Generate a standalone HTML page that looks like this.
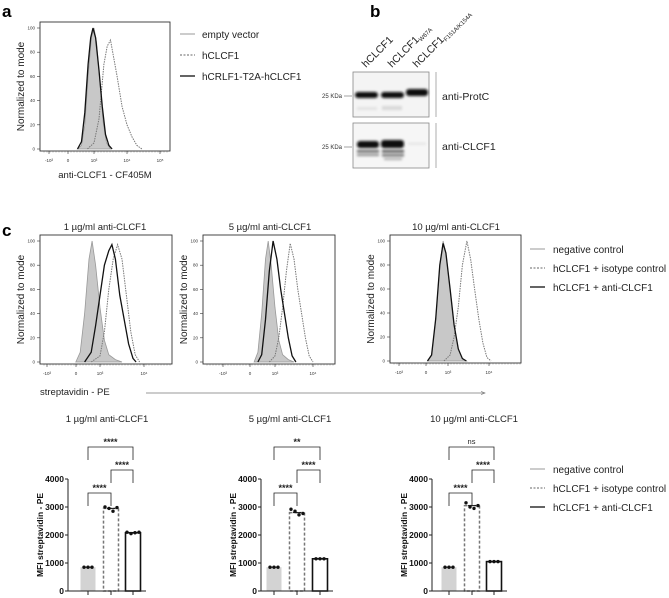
<!DOCTYPE html>
<html><head><meta charset="utf-8">
<style>
html,body{margin:0;padding:0;background:#fff;}
svg{display:block;font-family:"Liberation Sans",sans-serif;}
</style></head>
<body>
<svg id="fig" width="669" height="598" viewBox="0 0 669 598" xmlns="http://www.w3.org/2000/svg">
<defs>
<filter id="blur1" x="-20%" y="-50%" width="140%" height="200%"><feGaussianBlur stdDeviation="1.3"/></filter>
<marker id="arr" markerWidth="6" markerHeight="6" refX="5" refY="3" orient="auto"><path d="M0,1 L5,3 L0,5" fill="none" stroke="#777" stroke-width="0.8"/></marker>
</defs>
<text x="2" y="17" font-size="17" font-weight="bold">a</text>
<text x="370" y="17" font-size="17" font-weight="bold">b</text>
<text x="2" y="236" font-size="17" font-weight="bold">c</text>

<g font-size="10" fill="#222">
<line x1="180" y1="34" x2="195" y2="34" stroke="#999" stroke-width="1"/>
<text x="202" y="38">empty vector</text>
<line x1="180" y1="55" x2="195" y2="55" stroke="#666" stroke-width="1" stroke-dasharray="2,1.5"/>
<text x="202" y="59">hCLCF1</text>
<line x1="180" y1="76" x2="195" y2="76" stroke="#222" stroke-width="1.4"/>
<text x="202" y="80">hCRLF1-T2A-hCLCF1</text>
</g>

<g>
<g font-size="10.5" fill="#222">
<text transform="translate(366,68) rotate(-45)">hCLCF1</text>
<text transform="translate(392,68) rotate(-45)">hCLCF1<tspan font-size="6" dy="2">W67A</tspan></text>
<text transform="translate(417,68) rotate(-45)">hCLCF1<tspan font-size="6" dy="2">F151A/K154A</tspan></text>
</g>
<rect x="353" y="72" width="76" height="45" fill="#f4f4f4" stroke="#888" stroke-width="0.8"/>
<rect x="353" y="123" width="76" height="45" fill="#f6f6f6" stroke="#888" stroke-width="0.8"/>
<g filter="url(#blur1)">
<rect x="355" y="92" width="23" height="6" rx="3" fill="#111"/>
<rect x="381" y="92" width="23" height="6" rx="3" fill="#111"/>
<rect x="406" y="89" width="22" height="7" rx="3" fill="#111"/>
<rect x="357" y="107" width="20" height="3" fill="#e2e2e2"/>
<rect x="382" y="106" width="20" height="4" fill="#d8d8d8"/>
<rect x="357" y="141" width="22" height="7" rx="3" fill="#111"/>
<rect x="381" y="140" width="23" height="8" rx="3" fill="#111"/>
<rect x="357" y="150" width="22" height="2.5" fill="#666"/>
<rect x="382" y="150" width="22" height="2.5" fill="#555"/>
<rect x="357" y="154" width="22" height="2" fill="#888"/>
<rect x="382" y="154" width="22" height="2.5" fill="#777"/>
<rect x="384" y="158" width="18" height="2" fill="#aaa"/>
<rect x="408" y="143" width="18" height="1.5" fill="#ddd"/>
</g>
<line x1="436" y1="72" x2="436" y2="117" stroke="#999" stroke-width="0.8"/>
<line x1="436" y1="123" x2="436" y2="168" stroke="#999" stroke-width="0.8"/>
<text x="442" y="100" font-size="10.5" fill="#222">anti-ProtC</text>
<text x="442" y="150" font-size="10.5" fill="#222">anti-CLCF1</text>
<text x="342" y="98" font-size="6" text-anchor="end" fill="#333">25 KDa</text>
<line x1="344" y1="96" x2="352" y2="96" stroke="#666" stroke-width="0.6"/>
<text x="342" y="149" font-size="6" text-anchor="end" fill="#333">25 KDa</text>
<line x1="344" y1="147" x2="352" y2="147" stroke="#666" stroke-width="0.6"/>
</g>

<g font-size="9.5" fill="#222" text-anchor="middle">
<text x="105" y="230">1 µg/ml anti-CLCF1</text>
<text x="270" y="230">5 µg/ml anti-CLCF1</text>
<text x="456" y="230">10 µg/ml anti-CLCF1</text>
</g>
<g font-size="10" fill="#222">
<line x1="530" y1="249" x2="545" y2="249" stroke="#999" stroke-width="1"/>
<text x="553" y="253">negative control</text>
<line x1="530" y1="268" x2="545" y2="268" stroke="#666" stroke-width="1" stroke-dasharray="2,1.5"/>
<text x="553" y="272">hCLCF1 + isotype control</text>
<line x1="530" y1="287" x2="545" y2="287" stroke="#222" stroke-width="1.4"/>
<text x="553" y="291">hCLCF1 + anti-CLCF1</text>
</g>
<text x="40" y="395" font-size="9.5" fill="#222">streptavidin - PE</text>
<line x1="146" y1="393" x2="485" y2="393" stroke="#777" stroke-width="0.8" marker-end="url(#arr)"/>

<g font-size="10" fill="#222">
<line x1="530" y1="469" x2="545" y2="469" stroke="#999" stroke-width="1"/>
<text x="553" y="473">negative control</text>
<line x1="530" y1="488" x2="545" y2="488" stroke="#666" stroke-width="1" stroke-dasharray="2,1.5"/>
<text x="553" y="492">hCLCF1 + isotype control</text>
<line x1="530" y1="507" x2="545" y2="507" stroke="#222" stroke-width="1.4"/>
<text x="553" y="511">hCLCF1 + anti-CLCF1</text>
</g>
<g font-size="9.5" fill="#222" text-anchor="middle">
<text x="107" y="422">1 µg/ml anti-CLCF1</text>
<text x="290" y="422">5 µg/ml anti-CLCF1</text>
<text x="474" y="422">10 µg/ml anti-CLCF1</text>
</g>
</svg>
<script>
// ---------- Histogram data (x in log10 intensity, y in % of mode) ----------
const histYTicks = [0, 20, 40, 60, 80, 100];
const histXTickLabels = ["-10³", "0", "10³", "10⁴", "10⁵"];
const histXTickLogs = [-3, 0, 3, 4, 5];

const aEmptyX = [2.5, 2.62, 2.72, 2.82, 2.92, 3.0, 3.08, 3.18, 3.28, 3.38, 3.5];
const aEmptyY = [0, 3, 20, 60, 92, 100, 88, 55, 22, 5, 0];
const aClcfX = [2.8, 3.0, 3.15, 3.3, 3.4, 3.5, 3.6, 3.7, 3.85, 4.0, 4.15, 4.3, 4.45];
const aClcfY = [0, 5, 25, 70, 85, 90, 75, 60, 35, 20, 10, 3, 0];
const aCrlfX = [2.5, 2.62, 2.72, 2.82, 2.9, 2.97, 3.05, 3.15, 3.25, 3.35, 3.45, 3.55];
const aCrlfY = [0, 6, 30, 70, 92, 100, 92, 65, 35, 12, 3, 0];

const c1NegX = [2.45, 2.55, 2.65, 2.75, 2.82, 2.9, 3.0, 3.1, 3.2, 3.35, 3.5];
const c1NegY = [0, 8, 40, 85, 100, 80, 45, 18, 6, 2, 0];
const c1IsoX = [2.8, 3.0, 3.1, 3.2, 3.3, 3.4, 3.5, 3.6, 3.7, 3.8, 3.9];
const c1IsoY = [0, 5, 25, 60, 85, 97, 85, 55, 25, 6, 0];
const c1AntiX = [2.65, 2.8, 2.9, 3.0, 3.1, 3.2, 3.27, 3.35, 3.45, 3.55, 3.65, 3.75, 3.82];
const c1AntiY = [0, 8, 30, 55, 80, 92, 97, 85, 55, 35, 15, 3, 0];

const c2NegX = [2.45, 2.55, 2.65, 2.75, 2.82, 2.9, 3.0, 3.1, 3.2, 3.35, 3.5];
const c2NegY = [0, 8, 40, 85, 100, 80, 45, 18, 6, 2, 0];
const c2IsoX = [2.85, 3.0, 3.1, 3.2, 3.3, 3.4, 3.5, 3.6, 3.7, 3.8, 3.9, 4.0];
const c2IsoY = [0, 5, 20, 45, 75, 98, 85, 60, 40, 20, 5, 0];
const c2AntiX = [2.55, 2.65, 2.75, 2.85, 2.95, 3.05, 3.15, 3.25, 3.35, 3.45, 3.55];
const c2AntiY = [0, 6, 35, 75, 100, 85, 60, 40, 20, 5, 0];

const c3NegX = [2.5, 2.6, 2.7, 2.8, 2.88, 2.95, 3.05, 3.15, 3.25, 3.35, 3.45];
const c3NegY = [0, 5, 35, 80, 100, 90, 60, 30, 10, 2, 0];
const c3IsoX = [2.9, 3.05, 3.15, 3.25, 3.35, 3.46, 3.55, 3.65, 3.75, 3.85, 3.95, 4.05];
const c3IsoY = [0, 5, 20, 45, 80, 100, 85, 60, 35, 15, 3, 0];
const c3AntiX = [2.5, 2.6, 2.7, 2.8, 2.88, 2.95, 3.05, 3.15, 3.25, 3.35, 3.45];
const c3AntiY = [0, 5, 35, 80, 98, 90, 60, 30, 10, 2, 0];

// ---------- Bar data ----------
const barGroups = ["negative control", "hCLCF1 + isotype control", "hCLCF1 + anti-CLCF1"];
const barYTicks = [0, 1000, 2000, 3000, 4000];
const bar1Means = [850, 2950, 2080];
const bar1Points = [[850, 850, 850], [3000, 2950, 2850, 2980], [2100, 2050, 2080, 2100]];
const bar1Sig = ["****", "****", "****"];
const bar2Means = [850, 2800, 1150];
const bar2Points = [[850, 850, 850], [2920, 2850, 2720, 2770], [1150, 1150, 1150]];
const bar2Sig = ["**", "****", "****"];
const bar3Means = [850, 3050, 1050];
const bar3Points = [[850, 850, 850], [3150, 3000, 2950, 3050], [1050, 1050, 1050]];
const bar3Sig = ["ns", "****", "****"];

const NS = "http://www.w3.org/2000/svg";
const svg = document.getElementById("fig");
function mk(tag, attrs, parent) {
  const e = document.createElementNS(NS, tag);
  for (const k in attrs) e.setAttribute(k, attrs[k]);
  (parent || svg).appendChild(e);
  return e;
}

function drawHist(cfg, negX, negY, isoX, isoY, antiX, antiY, name, labels) {
  const g = mk("g", {});
  
  
  const {x0, x1, y0, y1, zeroX, d3X, dec} = cfg;
  const sx = v => {
    if (v <= 0) return zeroX + v / 3 * (zeroX - cfg.negX);
    if (v >= 2) return d3X + (v - 3) * dec;
    const x2 = d3X - dec;
    return zeroX + (x2 - zeroX) * (v / 2);
  };
  const yTop = y0 + 6, yBot = y1 - 2;
  const sy = v => yBot - v / 100 * (yBot - yTop);
  const pathFor = (xs, ys) => xs.map((x, i) => (i ? "L" : "M") + sx(x).toFixed(1) + "," + sy(ys[i]).toFixed(1)).join(" ");
  const neg = mk("path", {d: pathFor(negX, negY) + " Z", fill: "#c8c8c8", stroke: "#999", "stroke-width": 0.8}, g);
  
  
  const iso = mk("path", {d: pathFor(isoX, isoY), fill: "none", stroke: "#777", "stroke-width": 1, "stroke-dasharray": "1.5,1"}, g);
  
  
  const anti = mk("path", {d: pathFor(antiX, antiY), fill: "none", stroke: "#111", "stroke-width": 1.3}, g);
  
  
  const box = mk("rect", {x: x0, y: y0, width: x1 - x0, height: y1 - y0, fill: "none", stroke: "#333", "stroke-width": 0.9}, g);
  
  
  histYTicks.forEach(t => {
    const y = sy(t);
    mk("line", {x1: x0 - 3, x2: x0, y1: y, y2: y, stroke: "#333", "stroke-width": 0.6}, g);
    const tx = mk("text", {x: x0 - 5, y: y + 1.5, "font-size": 4.5, "text-anchor": "end", fill: "#333"}, g);
    tx.textContent = t;
    
    
  });
  histXTickLogs.forEach((t, i) => {
    const x = sx(t);
    if (x > x1 + 1) return;
    mk("line", {x1: x, x2: x, y1: y1, y2: y1 + 3, stroke: "#333", "stroke-width": 0.6}, g);
    const tx = mk("text", {x: x, y: y1 + 11, "font-size": 4.5, "text-anchor": "middle", fill: "#333"}, g);
    tx.textContent = histXTickLabels[i];
    
    
  });
  for (let x = x0 + 4; x < x1; x += 3) mk("line", {x1: x, x2: x, y1: y1, y2: y1 + 1.5, stroke: "#555", "stroke-width": 0.4}, g);
  const yt = mk("text", {transform: `translate(${x0 - 16},${(y0 + y1) / 2}) rotate(-90)`, "font-size": 10, "text-anchor": "middle", fill: "#222"}, g);
  yt.textContent = "Normalized to mode";
  
  
  if (labels) {
    const xt = mk("text", {x: (x0 + x1) / 2, y: y1 + 27, "font-size": 9.5, "text-anchor": "middle", fill: "#222"}, g);
    xt.textContent = labels;
    
    
  }
}

drawHist({x0: 40, x1: 170, y0: 22, y1: 151, negX: 49, zeroX: 68, d3X: 94, dec: 33}, aEmptyX, aEmptyY, aClcfX, aClcfY, aCrlfX, aCrlfY, "histogram-a", "anti-CLCF1 - CF405M");
drawHist({x0: 40, x1: 172, y0: 235, y1: 364, negX: 47, zeroX: 76, d3X: 100, dec: 44}, c1NegX, c1NegY, c1IsoX, c1IsoY, c1AntiX, c1AntiY, "histogram-1ug", null);
drawHist({x0: 203, x1: 335, y0: 235, y1: 364, negX: 223, zeroX: 250, d3X: 275, dec: 38}, c2NegX, c2NegY, c2IsoX, c2IsoY, c2AntiX, c2AntiY, "histogram-5ug", null);
drawHist({x0: 390, x1: 521, y0: 235, y1: 363, negX: 399, zeroX: 426, d3X: 448, dec: 41}, c3NegX, c3NegY, c3IsoX, c3IsoY, c3AntiX, c3AntiY, "histogram-10ug", null);

function drawBars(ax, centers, means, points, sig, name) {
  const g = mk("g", {});
  
  
  const yB = 591, per = 28;
  const sy = v => yB - v / 1000 * per;
  const bw = 15;
  means.forEach((m, i) => {
    const cx = centers[i];
    let r;
    if (i === 0) r = mk("rect", {x: cx - bw / 2, y: sy(m), width: bw, height: yB - sy(m), fill: "#d3d3d3"}, g);
    else if (i === 1) r = mk("rect", {x: cx - bw / 2, y: sy(m), width: bw, height: yB - sy(m), fill: "#fff", stroke: "#777", "stroke-width": 1.5, "stroke-dasharray": "3,2"}, g);
    else r = mk("rect", {x: cx - bw / 2, y: sy(m), width: bw, height: yB - sy(m), fill: "#fff", stroke: "#111", "stroke-width": 1.6}, g);
    
    
    mk("line", {x1: cx - 4, x2: cx + 4, y1: sy(m), y2: sy(m), stroke: "#111", "stroke-width": 1}, g);
    points[i].forEach((p, j) => {
      const n = points[i].length;
      const dot = mk("circle", {cx: cx + (j - (n - 1) / 2) * 4, cy: sy(p), r: 1.7, fill: "#111"}, g);
      
      
    });
  });
  mk("line", {x1: ax, x2: ax, y1: sy(4000), y2: yB, stroke: "#222", "stroke-width": 1}, g);
  mk("line", {x1: ax, x2: centers[2] + 13, y1: yB, y2: yB, stroke: "#222", "stroke-width": 1}, g);
  centers.forEach(c => mk("line", {x1: c, x2: c, y1: yB, y2: yB + 4, stroke: "#222", "stroke-width": 1}, g));
  barYTicks.forEach(t => {
    mk("line", {x1: ax - 3, x2: ax, y1: sy(t), y2: sy(t), stroke: "#222", "stroke-width": 1}, g);
    const tx = mk("text", {x: ax - 4, y: sy(t) + 3, "font-size": 8.5, "font-weight": "bold", "text-anchor": "end", fill: "#111"}, g);
    tx.textContent = t;
    
    
  });
  const yt = mk("text", {transform: `translate(${ax - 25},${sy(2000)}) rotate(-90)`, "font-size": 8.5, "font-weight": "bold", "text-anchor": "middle", fill: "#111"}, g);
  yt.textContent = "MFI streptavidin - PE";
  
  
  const br = [[0, 2, 447, sig[0]], [1, 2, 470, sig[1]], [0, 1, 493, sig[2]]];
  br.forEach(([a, b, y, s]) => {
    const p = mk("path", {d: `M${centers[a]},${y + 13} V${y} H${centers[b]} V${y + 13}`, fill: "none", stroke: "#222", "stroke-width": 0.8}, g);
    
    
    const tx = mk("text", {x: (centers[a] + centers[b]) / 2, y: s === "ns" ? y - 3 : y - 2, "font-size": s === "ns" ? 7.5 : 9, "font-weight": s === "ns" ? "normal" : "bold", "text-anchor": "middle", fill: "#222"}, g);
    tx.textContent = s;
    
    
  });
}
drawBars(68, [88, 111, 133], bar1Means, bar1Points, bar1Sig, "bar-chart-1ug");
drawBars(261, [274, 297, 320], bar2Means, bar2Points, bar2Sig, "bar-chart-5ug");
drawBars(432, [449, 472, 494], bar3Means, bar3Points, bar3Sig, "bar-chart-10ug");
</script>
</body></html>
